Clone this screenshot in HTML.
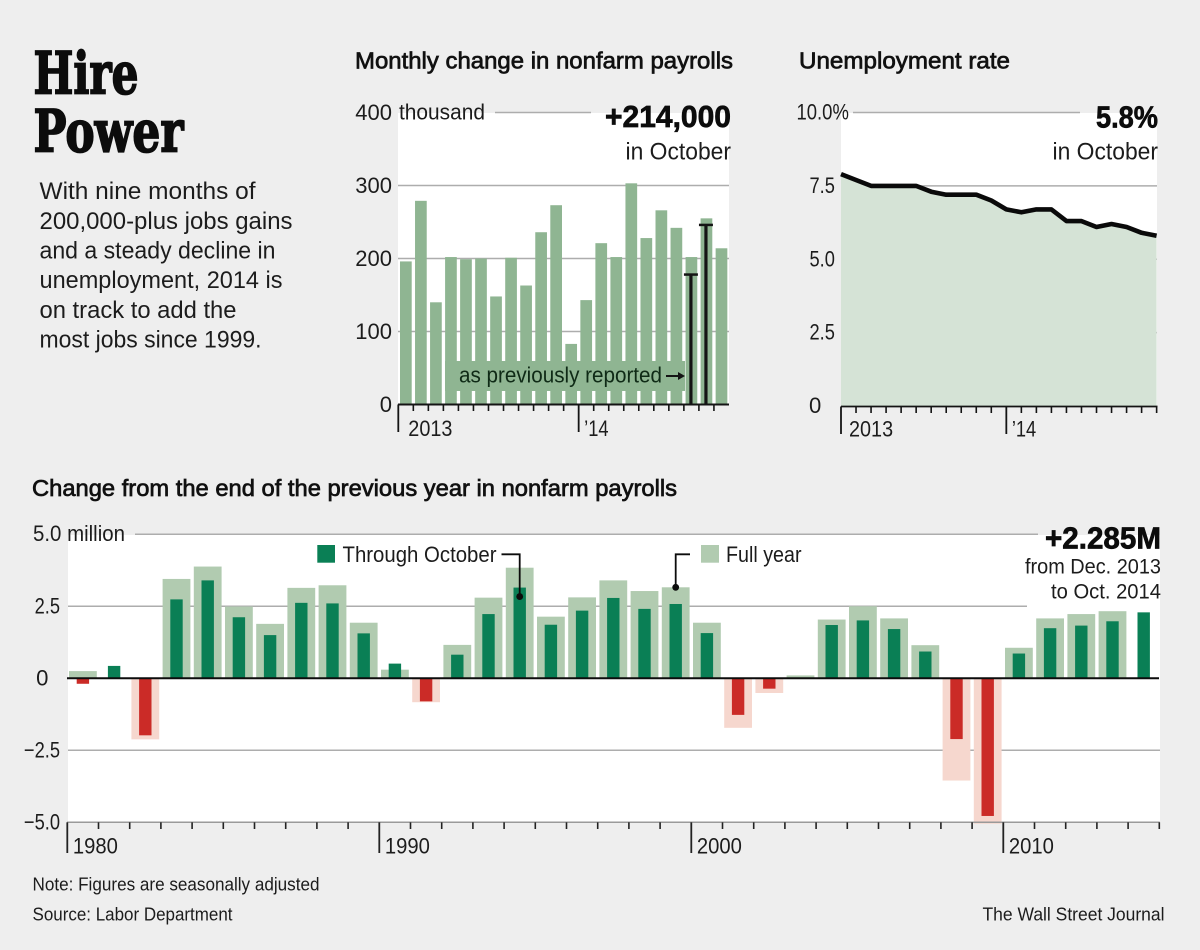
<!DOCTYPE html>
<html lang="en">
<head>
<meta charset="utf-8">
<title>Hire Power</title>
<style>
html,body{margin:0;padding:0;background:#eeeeee;}
svg{display:block;}
text{font-family:"Liberation Sans",sans-serif;fill:#1c1c1c;}
.hed{font-size:23px;stroke:#111;stroke-width:.7px;fill:#111;}
.body{font-size:24px;}
.big{font-size:31px;font-weight:bold;fill:#0c0c0c;stroke:#0c0c0c;stroke-width:.7px;}
.sub{font-size:24px;}
.lab{font-size:22px;}
.note{font-size:18px;}
.ttl{font-family:"DejaVu Serif","Liberation Serif",serif;font-weight:bold;font-size:58px;fill:#0c0c0c;stroke:#0c0c0c;stroke-width:1.8px;stroke-linejoin:miter;}
</style>
</head>
<body>
<svg id="root" xmlns="http://www.w3.org/2000/svg" width="1200" height="950" viewBox="0 0 1200 950">
<rect x="0" y="0" width="1200" height="950" fill="#eeeeee"/>

<text class="ttl" x="33.5" y="93.5" textLength="105" lengthAdjust="spacingAndGlyphs">Hire</text>
<text class="ttl" x="33.5" y="151.5" textLength="150" lengthAdjust="spacingAndGlyphs">Power</text>

<g>
<text class="body" x="39.5" y="199" textLength="216" lengthAdjust="spacingAndGlyphs">With nine months of</text>
<text class="body" x="39.5" y="229" textLength="253" lengthAdjust="spacingAndGlyphs">200,000-plus jobs gains</text>
<text class="body" x="39.5" y="258.5" textLength="236" lengthAdjust="spacingAndGlyphs">and a steady decline in</text>
<text class="body" x="39.5" y="288" textLength="243" lengthAdjust="spacingAndGlyphs">unemployment, 2014 is</text>
<text class="body" x="39.5" y="318" textLength="197" lengthAdjust="spacingAndGlyphs">on track to add the</text>
<text class="body" x="39.5" y="347.5" textLength="222" lengthAdjust="spacingAndGlyphs">most jobs since 1999.</text>
</g>

<text class="hed" x="355" y="68.5" textLength="378" lengthAdjust="spacingAndGlyphs">Monthly change in nonfarm payrolls</text>
<text class="hed" x="799" y="68.5" textLength="211" lengthAdjust="spacingAndGlyphs">Unemployment rate</text>
<text class="hed" x="32" y="496" textLength="645" lengthAdjust="spacingAndGlyphs">Change from the end of the previous year in nonfarm payrolls</text>

<g id="payrolls"></g>
<g id="unemp"></g>
<g id="annual"></g>

<text class="note" x="32.5" y="890.5" textLength="287" lengthAdjust="spacingAndGlyphs">Note: Figures are seasonally adjusted</text>
<text class="note" x="32.5" y="920.5" textLength="200" lengthAdjust="spacingAndGlyphs">Source: Labor Department</text>
<text class="note" x="982.5" y="920.5" textLength="182" lengthAdjust="spacingAndGlyphs">The Wall Street Journal</text>
</svg>

<script>
// ---- Monthly payrolls data (thousands), Jan 2013 – Oct 2014
const payrollValues = [196,279,140,202,199,200,148,201,163,236,273,83,143,221,202,303,228,266,242,202,255,214];
const previousBarIndex = [19,20];
const previousValues = [178,246];
const payrollTicks = [0,100,200,300,400];
const payrollYearTicks = [0,12];
const payrollYearLabels = ['2013','\u201914'];

// ---- Unemployment rate data (percent)
const unemploymentValues = [7.9,7.7,7.5,7.5,7.5,7.5,7.3,7.2,7.2,7.2,7.0,6.7,6.6,6.7,6.7,6.3,6.3,6.1,6.2,6.1,5.9,5.8];
const unemploymentTicks = [0,2.5,5,7.5,10];
const unemploymentTickLabels = ['0','2.5','5.0','7.5','10.0%'];
const unemploymentYearTicks = [0,11];
const unemploymentYearLabels = ['2013','\u201914'];

// ---- Annual change data (millions), 1980 – 2014
const years = [1980,1981,1982,1983,1984,1985,1986,1987,1988,1989,1990,1991,1992,1993,1994,1995,1996,1997,1998,1999,2000,2001,2002,2003,2004,2005,2006,2007,2008,2009,2010,2011,2012,2013,2014];
const fullYearValues = [0.25,0,-2.12,3.45,3.88,2.49,1.89,3.14,3.23,1.93,0.30,-0.83,1.16,2.80,3.84,2.14,2.81,3.40,3.03,3.16,1.93,-1.72,-0.51,0.10,2.04,2.50,2.08,1.15,-3.55,-5.05,1.06,2.08,2.23,2.33,null];
const throughOctoberValues = [-0.19,0.43,-1.98,2.74,3.40,2.12,1.50,2.62,2.60,1.56,0.51,-0.80,0.82,2.23,3.15,1.86,2.35,2.79,2.41,2.58,1.57,-1.27,-0.36,-0.02,1.85,2.01,1.71,0.93,-2.11,-4.78,0.86,1.74,1.83,1.98,2.29];
const annualTicks = [-5,-2.5,0,2.5,5];
const annualTickLabels = ['\u22125.0','\u22122.5','0','2.5','5.0'];
const decadeLabels = ['1980','1990','2000','2010'];
const throughCalloutYear = 1994;
const fullCalloutYear = 1999;

const NS = 'http://www.w3.org/2000/svg';
const GRID = '#adadad';
const INK = '#141414';

function mk(tag, parent, attrs) {
  const el = document.createElementNS(NS, tag);
  for (const k in attrs) el.setAttribute(k, attrs[k]);
  parent.appendChild(el);
  return el;
}
function lbl(parent, x, y, str, anchor, squeeze) {
  const el = mk('text', parent, {x: x, y: y, class: 'lab', 'text-anchor': anchor || 'start'});
  el.textContent = str;
  if (squeeze) {
    const w = el.getComputedTextLength();
    el.setAttribute('textLength', (w * squeeze).toFixed(1));
    el.setAttribute('lengthAdjust', 'spacingAndGlyphs');
  }
  return el;
}
function line(parent, x1, y1, x2, y2, stroke, w) {
  return mk('line', parent, {x1: x1, y1: y1, x2: x2, y2: y2, stroke: stroke, 'stroke-width': w});
}

/* ============ Monthly payrolls ============ */
(function () {
  const g = document.getElementById('payrolls');
  const yP = v => 404.5 - v * 0.73;
  const tickX = i => 398.3 + i * 15.03;
  const barC = i => tickX(i) + 7.55;

  const plot = mk('rect', g, {x: 398, y: 113, width: 331, height: 291, fill: '#ffffff'});
  
  

  payrollTicks.forEach(function (t) {
    if (t === 0) return;
    const top = t === payrollTicks[payrollTicks.length - 1];
    const gl = line(g, top ? 495 : 398, yP(t), top ? 591 : 729, yP(t), GRID, 1.5);
    
    
  });

  payrollValues.forEach(function (v, i) {
    const b = mk('rect', g, {x: barC(i) - 5.85, y: yP(v), width: 11.7, height: yP(0) - yP(v), fill: '#8fb592'});
    
    
  });

  const band = mk('rect', g, {x: 445, y: 361, width: 240, height: 30, fill: '#8fb592'});
  
  
  const note = mk('text', g, {x: 459, y: 382.5, class: 'lab', textLength: 203, lengthAdjust: 'spacingAndGlyphs', style: 'fill:#0f2a16'});
  note.textContent = 'as previously reported';
  
  
  const arrowStem = line(g, 666, 376, 680, 376, INK, 2);
  
  
  const arrowHead = mk('polygon', g, {points: '678,372 685,376 678,380', fill: INK});
  
  

  previousValues.forEach(function (v, k) {
    const c = barC(previousBarIndex[k]) - 0.5;
    const stem = line(g, c, yP(v), c, yP(0), INK, 3.2);
    
    
    const cap = line(g, c - 7, yP(v), c + 7, yP(v), INK, 2.5);
    
    
  });

  const axis = line(g, 398, yP(0), 729, yP(0), INK, 2);
  
  
  payrollValues.forEach(function (v, i) {
    const major = payrollYearTicks.indexOf(i) >= 0;
    const t = line(g, tickX(i), yP(0), tickX(i), major ? 432 : 411, INK, major ? 1.8 : 1.6);
    
    
  });
  payrollYearTicks.forEach(function (idx, k) {
    const yl = lbl(g, tickX(idx) + (k === 0 ? 10 : 5.5), 436, payrollYearLabels[k], 'start', k === 0 ? 0.9 : 0.83);
    
    
  });
  payrollTicks.forEach(function (t) {
    const tl = lbl(g, 392, yP(t) + 7.3, String(t), 'end');
    
    
  });

  const unit = mk('text', g, {x: 399, y: 119.3, class: 'lab', textLength: 86, lengthAdjust: 'spacingAndGlyphs'});
  unit.textContent = 'thousand';
  
  
  const big = mk('text', g, {x: 605, y: 127, class: 'big', textLength: 126, lengthAdjust: 'spacingAndGlyphs'});
  big.textContent = '+214,000';
  
  
  const sub = mk('text', g, {x: 625.5, y: 159.3, class: 'sub', textLength: 105.5, lengthAdjust: 'spacingAndGlyphs'});
  sub.textContent = 'in October';
  
  
})();

/* ============ Unemployment rate ============ */
(function () {
  const g = document.getElementById('unemp');
  const yU = v => 406 - v * 29.35;
  const xU = i => 841 + i * 15.03;

  const plot = mk('rect', g, {x: 841, y: 113, width: 316, height: 293, fill: '#ffffff'});
  
  

  unemploymentTicks.forEach(function (t) {
    if (t === 0) return;
    const top = t === unemploymentTicks[unemploymentTicks.length - 1];
    const gl = line(g, top ? 853 : 841, yU(t), top ? 1080 : 1157, yU(t), GRID, 1.5);
    
    
  });

  const pts = unemploymentValues.map((v, i) => xU(i).toFixed(1) + ',' + yU(v).toFixed(1));
  const area = mk('polygon', g, {points: xU(0) + ',' + yU(0) + ' ' + pts.join(' ') + ' ' + xU(unemploymentValues.length - 1) + ',' + yU(0), fill: '#d5e3d6'});
  
  
  const rate = mk('polyline', g, {points: pts.join(' '), fill: 'none', stroke: '#0a0a0a', 'stroke-width': 4.6, 'stroke-linejoin': 'round'});
  
  

  const axis = line(g, 841, 406.5, 1157.5, 406.5, INK, 1.8);
  
  
  unemploymentValues.forEach(function (v, i) {
    const major = unemploymentYearTicks.indexOf(i) >= 0;
    const t = line(g, xU(i), 406.5, xU(i), major ? 434 : 413, INK, major ? 1.8 : 1.6);
    
    
  });
  unemploymentYearTicks.forEach(function (idx, k) {
    const yl = lbl(g, xU(idx) + (k === 0 ? 8 : 5.5), 436.5, unemploymentYearLabels[k], 'start', k === 0 ? 0.9 : 0.83);
    
    
  });
  unemploymentTicks.forEach(function (t, k) {
    const tl = k === 4
      ? lbl(g, 796.5, yU(t) + 7, unemploymentTickLabels[k], 'start', 0.84)
      : lbl(g, k === 0 ? 809 : 809.5, yU(t) + 7, unemploymentTickLabels[k], 'start', k === 0 ? 1 : 0.83);
    
    
  });

  const big = mk('text', g, {x: 1096, y: 127.3, class: 'big', textLength: 62, lengthAdjust: 'spacingAndGlyphs'});
  big.textContent = '5.8%';
  
  
  const sub = mk('text', g, {x: 1052.5, y: 159.3, class: 'sub', textLength: 105.5, lengthAdjust: 'spacingAndGlyphs'});
  sub.textContent = 'in October';
  
  
})();

/* ============ Annual change ============ */
(function () {
  const g = document.getElementById('annual');
  const yA = v => 678.3 - v * 28.8;
  const tickX = i => 67.3 + i * 31.2;
  const barC = i => tickX(i) + 15.6;

  const plot = mk('rect', g, {x: 68, y: 535, width: 1092, height: 287, fill: '#ffffff'});
  
  

  annualTicks.forEach(function (t, k) {
    if (t === 0) return;
    let x1 = 68, x2 = 1160;
    if (t === 5) { x1 = 135; x2 = 1038; }
    if (t === 2.5) { x2 = 1027; }
    const gl = line(g, x1, yA(t), x2, yA(t), GRID, 1.5);
    
    
  });

  years.forEach(function (yr, i) {
    const f = fullYearValues[i];
    if (f === null || f === 0) return;
    const b = mk('rect', g, {x: barC(i) - 13.9, y: Math.min(yA(f), yA(0)), width: 27.8, height: Math.abs(yA(f) - yA(0)), fill: f >= 0 ? '#b1cbb0' : '#f6d7ce'});
    
    
  });
  years.forEach(function (yr, i) {
    const v = throughOctoberValues[i];
    const b = mk('rect', g, {x: barC(i) - 6.2, y: Math.min(yA(v), yA(0)), width: 12.4, height: Math.abs(yA(v) - yA(0)), fill: v >= 0 ? '#0a7f55' : '#cb2b27'});
    
    
  });

  const zero = line(g, 67, yA(0), 1159, yA(0), '#0c0c0c', 2);
  
  
  const axis = line(g, 67, yA(-5), 1159, yA(-5), '#9a9a9a', 1.5);
  
  
  for (let i = 0; i <= years.length; i++) {
    const major = i % 10 === 0 && i < years.length;
    const t = line(g, tickX(i), yA(-5), tickX(i), major ? 853 : 829, '#222', major ? 1.8 : 1.6);
    
    
  }
  decadeLabels.forEach(function (s, k) {
    const dl = lbl(g, tickX(k * 10) + 5.6, 853.3, s, 'start', 0.92);
    
    
  });
  annualTicks.forEach(function (t, k) {
    if (t === 5) {
      const five = mk('text', g, {x: 33, y: 541, class: 'lab', textLength: 92, lengthAdjust: 'spacingAndGlyphs'});
      five.textContent = annualTickLabels[k] + ' million';
      
      
      return;
    }
    const tl = lbl(g, t === 0 ? 48.5 : 60, yA(t) + 7.2, annualTickLabels[k], 'end', t === 0 ? 1 : 0.83);
    
    
  });

  // legend + leaders
  const sw1 = mk('rect', g, {x: 317.3, y: 545, width: 17.7, height: 17.7, fill: '#0a7f55'});
  
  
  const t1 = mk('text', g, {x: 342.5, y: 562, class: 'lab', textLength: 154, lengthAdjust: 'spacingAndGlyphs'});
  t1.textContent = 'Through October';
  
  
  const sw2 = mk('rect', g, {x: 701, y: 545, width: 18, height: 17.7, fill: '#b1cbb0'});
  
  
  const t2 = mk('text', g, {x: 726, y: 562, class: 'lab', textLength: 75.5, lengthAdjust: 'spacingAndGlyphs'});
  t2.textContent = 'Full year';
  
  

  const ti = years.indexOf(throughCalloutYear);
  const tx = barC(ti), ty = yA(throughOctoberValues[ti]) + 9;
  const l1 = mk('polyline', g, {points: '501.5,554.3 ' + tx + ',554.3 ' + tx + ',' + ty, fill: 'none', stroke: '#0c0c0c', 'stroke-width': 1.8});
  
  
  const d1 = mk('circle', g, {cx: tx, cy: ty, r: 3.4, fill: '#0c0c0c'});
  
  

  const fi = years.indexOf(fullCalloutYear);
  const fx = barC(fi), fy = yA(fullYearValues[fi]);
  const l2 = mk('polyline', g, {points: '690,554.3 ' + fx + ',554.3 ' + fx + ',' + fy, fill: 'none', stroke: '#0c0c0c', 'stroke-width': 1.8});
  
  
  const d2 = mk('circle', g, {cx: fx, cy: fy, r: 3.4, fill: '#0c0c0c'});
  
  

  const big = mk('text', g, {x: 1045, y: 548.3, class: 'big', textLength: 116, lengthAdjust: 'spacingAndGlyphs'});
  big.textContent = '+2.285M';
  
  
  const s1 = mk('text', g, {x: 1025, y: 573.3, class: 'lab', textLength: 136, lengthAdjust: 'spacingAndGlyphs', style: 'font-size:21px'});
  s1.textContent = 'from Dec. 2013';
  
  
  const s2 = mk('text', g, {x: 1051, y: 598.3, class: 'lab', textLength: 110, lengthAdjust: 'spacingAndGlyphs', style: 'font-size:21px'});
  s2.textContent = 'to Oct. 2014';
  
  
})();
</script>
</body>
</html>
